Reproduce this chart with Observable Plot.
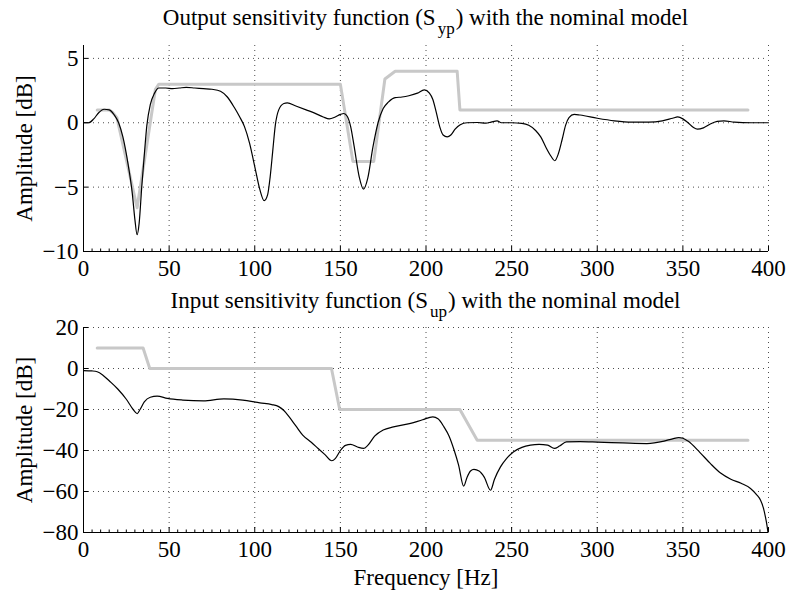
<!DOCTYPE html>
<html><head><meta charset="utf-8">
<script src="https://cdn.jsdelivr.net/npm/d3@7"></script>
<script src="https://cdn.jsdelivr.net/npm/@observablehq/plot@0.6"></script>
<style>
body{margin:0;background:#fff;}
#wrap{position:relative;width:788px;height:594px;overflow:hidden;font-family:"Liberation Serif","Times New Roman",serif;background:#fff;}
.title{position:absolute;left:83px;width:685px;text-align:center;font-size:23px;line-height:23px;white-space:nowrap;color:#000}
.sub{position:relative;top:9px;font-size:17px;margin:0 1px 0 2px}
#p1,#p2{position:absolute;left:0}
#p1{top:0} #p2{top:290px}
</style></head><body>
<div id="wrap">
<div id="p1"></div><div id="p2"></div>
<div class="title" style="top:6px">Output sensitivity function (S<span class="sub">yp</span>) with the nominal model</div>
<div class="title" style="top:289px">Input sensitivity function (S<span class="sub">up</span>) with the nominal model</div>
</div>
<script>
// ---- data (frequency [Hz], amplitude [dB]) ----
const xTicks = [0, 50, 100, 150, 200, 250, 300, 350, 400];
const sypTicks = [-10, -5, 0, 5];
const supTicks = [-80, -60, -40, -20, 0, 20];
const sypDomain = [-10, 6];
const supDomain = [-80, 20];

const sypMeasured = [
  [0,0],[3,0],[6,0.3],[9,0.8],[12,1.05],[15,1.0],[18,0.6],[20.5,0],[23,-1.1],[26,-3.2],[28.5,-5.5],[30,-7.5],[31.3,-8.7],[32.5,-7.8],[34,-5],[35.5,-2.5],[37,-0.2],[39,1.4],[41.5,2.3],[44,2.7],
  [48,2.7],[52,2.65],[56,2.7],[60,2.75],[65,2.7],[70,2.65],[75,2.6],[80,2.45],[84,2.0],[88,1.2],[91,0.5],[94,-0.3],[97,-1.6],[100,-3.4],[103,-5.2],[105.5,-6.05],[107.5,-5.6],[109,-4.2],[110.5,-2.2],[112,-0.2],[114,1.0],[117,1.5],[119,1.55],[124,1.3],[130,1.0],[135,0.75],[140,0.45],[143.5,0.3],[147,0.45],[150,0.65],[152,0.72],[154,0.5],[156,-0.3],[158,-1.8],[161,-4.2],[163.5,-5.15],[166,-4.3],[169,-1.9],[172,0],[175,1.1],[178,1.6],[182,1.95],
  [186,2.0],[190,2.1],[195,2.3],[199,2.55],[202,2.3],[204,1.8],[206,0.8],[208,-0.3],[210,-0.95],[212.4,-1.1],[214.5,-0.95],[217,-0.5],[220,-0.15],[224,0],[230,0.02],[235,-0.03],[238,0.05],[241.5,0.15],[244,0],[250,0],[256,-0.05],[260,-0.2],[264,-0.6],[267,-1.1],[270,-1.9],[273,-2.6],[275.2,-2.95],[277.3,-2.4],[279.5,-1.3],[281.5,-0.2],[283.5,0.4],[286.5,0.65],[290,0.6],[300,0.35],[310,0.15],[320,0.05],[330,0.05],[338,0.15],[344,0.35],[347,0.45],[350,0.3],[353,0],[356,-0.35],[358.5,-0.5],[362,-0.4],[366,-0.1],[370,0.1],[374,0.15],[380,0.05],[390,0],[400,0]
];
const sypTemplate = [
  [8,1],[15,1],[17,0.8],[19.5,0.4],[31.3,-6.6],[42,2.6],[44,3],[150,3],[157.3,-3],[169.5,-3],[176,3.4],[182,4],[218.2,4],[219.8,1],[388,1]
];
const supMeasured = [
  [0,-1],[5,-1.2],[8,-1.6],[11,-3],[15,-6],[20,-10],[25,-15],[29,-20],[31.4,-22],[33,-20],[35.5,-16.3],[39,-14],[43,-13.5],[49,-14.6],[58,-15.4],[70,-15.8],[82,-14.8],[93,-15.4],[103,-16.8],[110,-17.6],[114,-18.6],[117,-20.5],[120,-23.5],[124,-28],[128,-32.5],[133,-36],[137,-39],[141,-42],[145,-45],[147,-44],[150,-40],[153,-37.5],[156,-37],[160,-38.3],[163.5,-39],[166,-37.5],[170,-33],[175,-30],[181,-28.5],[191,-26.8],[198,-25],[204,-23.6],[207,-24.5],[210.5,-28.5],[213.5,-33],[216.5,-40],[219,-47],[222,-57.4],[224,-53],[226,-50],[228,-49.2],[231,-50],[234,-53],[237.7,-59.4],[240,-54],[243.5,-48],[247,-44],[251,-40.7],[256,-38.5],[261,-37.4],[266,-37],[271,-37.4],[275,-39],[278,-37.8],[282,-35.8],[290,-35.7],[300,-35.9],[315,-36.3],[329,-36.6],[339,-35.4],[344,-34.3],[347.6,-33.7],[350,-34],[353,-35.4],[360,-41],[366,-46.3],[372,-51],[378,-54],[384,-56],[389.5,-58.5],[393,-61.5],[395.3,-64.2],[397,-68],[398.2,-72.4],[399.2,-77],[399.7,-80]
];
const supTemplate = [
  [8,10],[34.8,10],[38.7,0],[144.8,0],[149.6,-20],[219.8,-20],[229.9,-35],[388,-35]
];

// ---- drawing ----
const FONT = "Liberation Serif, Times New Roman, serif";
const FS = 23;
const minorTicks = d3.range(0, 401, 5).filter(v => v % 50 !== 0);
const gridStyle = {stroke: "#000", strokeOpacity: 0.7, strokeWidth: 1, strokeDasharray: "1,4"};

function panel({height, marginTop, marginBottom, yDomain, yTicks, measured, template, xlabel}) {
  const marks = [
    Plot.gridX(xTicks.slice(1), gridStyle),
    Plot.gridY(yTicks.slice(1), gridStyle),
    Plot.line(template, {x: d => d[0], y: d => d[1], stroke: "#c8c8c8", strokeWidth: 3}),
    Plot.line(measured, {x: d => d[0], y: d => d[1], stroke: "#000", strokeWidth: 1.2, curve: "monotone-x"}),
    Plot.ruleX([0], {stroke: "#000"}),
    Plot.ruleY([yDomain[0]], {stroke: "#000"}),
    Plot.axisX(xTicks, {tickSize: 0, tickPadding: 8, label: null, fontSize: FS}),
    Plot.axisX(xTicks, {tickSize: -5, tickFormat: () => "", label: null}),
    Plot.axisX(minorTicks, {tickSize: -2.5, tickFormat: () => "", label: null}),
    Plot.axisY(yTicks, {tickSize: 0, tickPadding: 5, label: null, fontSize: FS}),
    Plot.axisY(yTicks, {tickSize: -5, tickFormat: () => "", label: null}),
    Plot.text(["Amplitude [dB]"], {text: d => d, frameAnchor: "left", textAnchor: "middle", lineAnchor: "middle", rotate: -90, dx: -59, fontSize: FS, fill: "#000"})
  ];
  if (xlabel) marks.push(Plot.text([xlabel], {text: d => d, frameAnchor: "bottom", lineAnchor: "middle", dy: 45, fontSize: FS, fill: "#000"}));
  return Plot.plot({
    width: 788, height, marginTop, marginBottom, marginLeft: 83, marginRight: 20,
    style: {fontFamily: FONT, fontSize: FS + "px", color: "#000", background: "transparent", overflow: "visible"},
    x: {domain: [0, 400], ticks: xTicks},
    y: {domain: yDomain, ticks: yTicks},
    marks
  });
}

document.getElementById("p1").appendChild(panel({
  height: 290, marginTop: 45, marginBottom: 39,
  yDomain: sypDomain, yTicks: sypTicks, measured: sypMeasured, template: sypTemplate
}));
document.getElementById("p2").appendChild(panel({
  height: 304, marginTop: 37, marginBottom: 62,
  yDomain: supDomain, yTicks: supTicks, measured: supMeasured, template: supTemplate,
  xlabel: "Frequency [Hz]"
}));
</script>
</body></html>
